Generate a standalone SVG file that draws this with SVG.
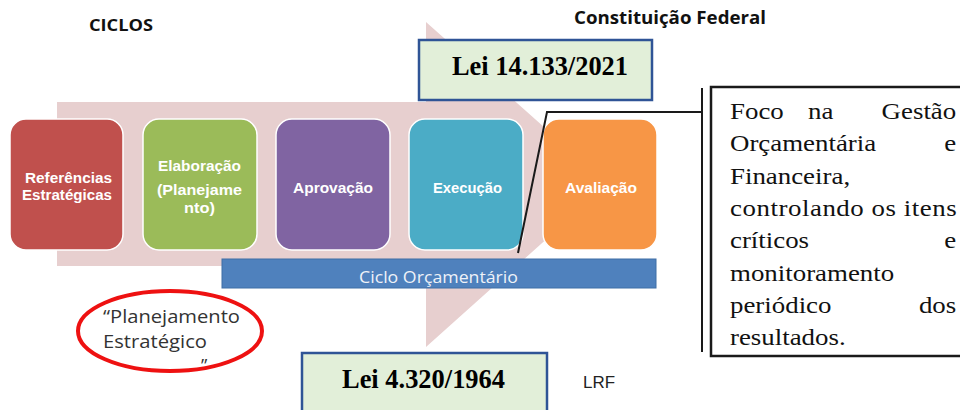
<svg xmlns="http://www.w3.org/2000/svg" width="960" height="410" viewBox="0 0 960 410">
<style>
.cal{font-family:"Open Sans","Liberation Sans",sans-serif}
.lbl{font-family:"Liberation Sans",Arial,sans-serif;font-weight:bold;font-size:14.5px;fill:#ffffff}
.box{stroke:#ffffff;stroke-width:1.5;opacity:1}
.lei{fill:#E2EFD9;stroke:#2F5496;stroke-width:2.5}
.leit{font-family:"Liberation Serif","Times New Roman",serif;font-weight:bold;fill:#000}
.rt{font-family:"Liberation Serif","Times New Roman",serif;font-size:24px;fill:#111}
.ln{fill:none;stroke:#1a1a1a;stroke-width:2}
</style>
<rect width="960" height="410" fill="#ffffff"/>
<g id="big-arrow">
<path d="M57 102 H426 V22 L608 184 L426 347 V266 H57 Z" fill="#E7CFCF"/>
</g>
<g id="titles">
<text class="cal" x="89" y="31" font-size="16" font-weight="bold" fill="#111" textLength="64" lengthAdjust="spacingAndGlyphs">CICLOS</text>
<text class="cal" x="574" y="24" font-size="17" font-weight="bold" fill="#111" textLength="192" lengthAdjust="spacingAndGlyphs">Constituição Federal</text>
</g>
<g id="node-referencias">
<rect class="box" x="10" y="119" width="113" height="131" rx="16" fill="#C0504D"/>
<text class="lbl" x="25" y="183" textLength="87" lengthAdjust="spacingAndGlyphs">Referências</text>
<text class="lbl" x="22" y="200" textLength="90" lengthAdjust="spacingAndGlyphs">Estratégicas</text>
</g>
<g id="node-elaboracao">
<rect class="box" x="143" y="119" width="114" height="131" rx="16" fill="#9BBB59"/>
<text class="lbl" x="158" y="171" textLength="83" lengthAdjust="spacingAndGlyphs">Elaboração</text>
<text class="lbl" x="157" y="195" textLength="85" lengthAdjust="spacingAndGlyphs">(Planejame</text>
<text class="lbl" x="184" y="213" textLength="31" lengthAdjust="spacingAndGlyphs">nto)</text>
</g>
<g id="node-aprovacao">
<rect class="box" x="276" y="119" width="114" height="131" rx="16" fill="#8064A2"/>
<text class="lbl" x="293" y="193" textLength="80" lengthAdjust="spacingAndGlyphs">Aprovação</text>
</g>
<g id="node-execucao">
<rect class="box" x="409" y="119" width="114" height="131" rx="16" fill="#4BACC6"/>
<text class="lbl" x="433" y="193" textLength="69" lengthAdjust="spacingAndGlyphs">Execução</text>
</g>
<g id="node-avaliacao">
<rect class="box" x="543" y="119" width="114" height="131" rx="16" fill="#F79646"/>
<text class="lbl" x="565" y="193" textLength="72" lengthAdjust="spacingAndGlyphs">Avaliação</text>
</g>
<g id="ciclo-orcamentario">
<rect x="222" y="259" width="434" height="29" fill="#4F81BD" stroke="#3f6ea6" stroke-width="1"/>
<text class="cal" x="359" y="283" font-size="16" fill="#EEF2F8" textLength="159" lengthAdjust="spacingAndGlyphs">Ciclo Orçamentário</text>
</g>
<g id="lei-14133">
<rect class="lei" x="419" y="40" width="233" height="60"/>
<text class="leit" x="540" y="75" font-size="28" text-anchor="middle" textLength="176" lengthAdjust="spacingAndGlyphs">Lei 14.133/2021</text>
</g>
<g id="lei-4320">
<rect class="lei" x="302" y="353" width="245" height="70"/>
<text class="leit" x="342" y="388" font-size="26.5" textLength="163" lengthAdjust="spacingAndGlyphs">Lei 4.320/1964</text>
</g>
<g id="lrf">
<text x="583" y="388" font-family="Liberation Sans, Arial, sans-serif" font-size="16" fill="#222" textLength="32" lengthAdjust="spacingAndGlyphs">LRF</text>
</g>
<g id="planejamento-estrategico">
<text class="cal" x="103" y="323" font-size="18" fill="#333" textLength="137" lengthAdjust="spacingAndGlyphs">“Planejamento</text>
<text class="cal" x="103" y="348" font-size="18" fill="#333" textLength="104" lengthAdjust="spacingAndGlyphs">Estratégico</text>
<text class="cal" x="201" y="372" font-size="18" fill="#333">”</text>
<ellipse cx="170" cy="331" rx="92" ry="40" fill="none" stroke="#EE1111" stroke-width="4"/>
</g>
<g id="connectors">
<polyline class="ln" points="518,253 547,112 702,112"/>
<line class="ln" x1="702" y1="88" x2="702" y2="352"/>
</g>
<g id="foco-box">
<rect x="711" y="87" width="252" height="269" fill="#ffffff" stroke="#1a1a1a" stroke-width="2.5"/>
<g transform="translate(730 0) scale(1.12 1)">
<text class="rt" x="0" y="119">Foco</text>
<text class="rt" x="81" y="119" text-anchor="middle">na</text>
<text class="rt" x="202" y="119" text-anchor="end">Gestão</text>
<text class="rt" x="0" y="151">Orçamentária</text>
<text class="rt" x="202" y="151" text-anchor="end">e</text>
<text class="rt" x="0" y="184">Financeira,</text>
<text class="rt" x="0" y="216" textLength="202.5" lengthAdjust="spacing">controlando os itens</text>
<text class="rt" x="0" y="248">críticos</text>
<text class="rt" x="202" y="248" text-anchor="end">e</text>
<text class="rt" x="0" y="281">monitoramento</text>
<text class="rt" x="0" y="313">periódico</text>
<text class="rt" x="202" y="313" text-anchor="end">dos</text>
<text class="rt" x="0" y="345">resultados.</text>
</g>
</g>
</svg>
